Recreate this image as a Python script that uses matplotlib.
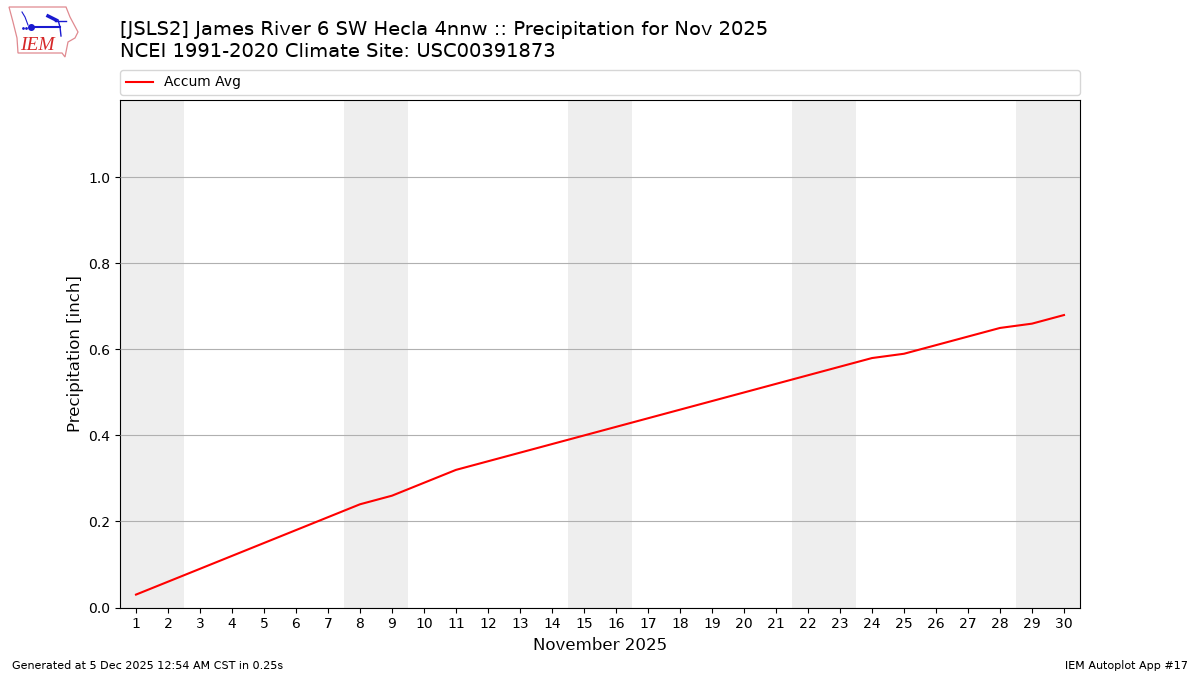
import matplotlib
matplotlib.use("Agg")
import matplotlib.pyplot as plt
from matplotlib.patches import Polygon

plt.rcParams["text.hinting"] = "native"

days = list(range(1, 31))
accum_avg = [0.03, 0.06, 0.09, 0.12, 0.15, 0.18, 0.21, 0.24, 0.26, 0.29,
             0.32, 0.34, 0.36, 0.38, 0.40, 0.42, 0.44, 0.46, 0.48, 0.50,
             0.52, 0.54, 0.56, 0.58, 0.59, 0.61, 0.63, 0.65, 0.66, 0.68]
weekends = [(0.5, 2.5), (7.5, 9.5), (14.5, 16.5), (21.5, 23.5), (28.5, 30.5)]
yticks = [0.0, 0.2, 0.4, 0.6, 0.8, 1.0]
title = "[JSLS2] James River 6 SW Hecla 4nnw :: Precipitation for Nov 2025\nNCEI 1991-2020 Climate Site: USC00391873"

fig = plt.figure(figsize=(12, 6.75), dpi=100)
ax = fig.add_axes([120 / 1200, 1 - 607.5 / 675, 960 / 1200, 507.5 / 675])

for start, end in weekends:
    ax.axvspan(start, end, color="#eeeeee", lw=0, zorder=1)
ax.plot(days, accum_avg, color="red", lw=1.5, label="Accum Avg", zorder=3)

ax.set_xlim(0.5, 30.5)
ax.set_ylim(0, 1.18)
ax.set_xticks(days)
ax.set_yticks(yticks)
ax.grid(axis="y", color="#b0b0b0", lw=0.8, zorder=2)
ax.set_axisbelow(False)
ax.set_xlabel("November 2025", fontsize=12, labelpad=4)
ax.set_ylabel("Precipitation [inch]", fontsize=12, labelpad=3)
ax.legend(loc="lower left", bbox_to_anchor=(0, 1 + 5 / 507.5, 1, 0.05), mode="expand", ncol=1, fontsize=10, borderaxespad=0)

fig.text(120 / 1200, 1 - 61 / 675, title, fontsize=14, ha="left", va="bottom", linespacing=1.3)
fig.text(12 / 1200, 1 - 671 / 675, "Generated at 5 Dec 2025 12:54 AM CST in 0.25s", fontsize=8, ha="left", va="bottom")
fig.text(1188 / 1200, 1 - 671 / 675, "IEM Autoplot App #17", fontsize=8, ha="right", va="bottom")

# rough logo in the corner
logo = fig.add_axes([0, 1 - 60 / 675, 80 / 1200, 60 / 675])
logo.set_xlim(0, 80)
logo.set_ylim(60, 0)
logo.axis("off")
logo.add_patch(Polygon([(9, 7), (66, 7), (70, 17), (78, 32), (75, 38), (68, 42), (65, 57), (62, 53), (18, 53), (17, 38), (13, 22)],
                       closed=True, fill=False, ec="#e08a90", lw=0.9))
logo.plot([30, 60], [27, 27], color="#1a1ad0", lw=1.5)
logo.plot([58, 60, 61], [20, 27, 36], color="#1a1ad0", lw=1)
logo.plot([55, 66], [21, 21], color="#1a1ad0", lw=1)
logo.plot([31], [27], "o", color="#1a1ad0", ms=4)
logo.plot([48, 56], [16, 20], color="#1a1ad0", lw=2.5)
logo.plot([22, 25, 28], [12, 17, 25], color="#1a1ad0", lw=0.8)
logo.plot([23, 26], [28, 28], ".", color="#1a1ad0", ms=2)
logo.text(37.5, 46, "IEM", color="#d62728", fontsize=14, family="Liberation Serif", style="italic", ha="center", va="center")

plt.savefig("out.png", dpi=100)
